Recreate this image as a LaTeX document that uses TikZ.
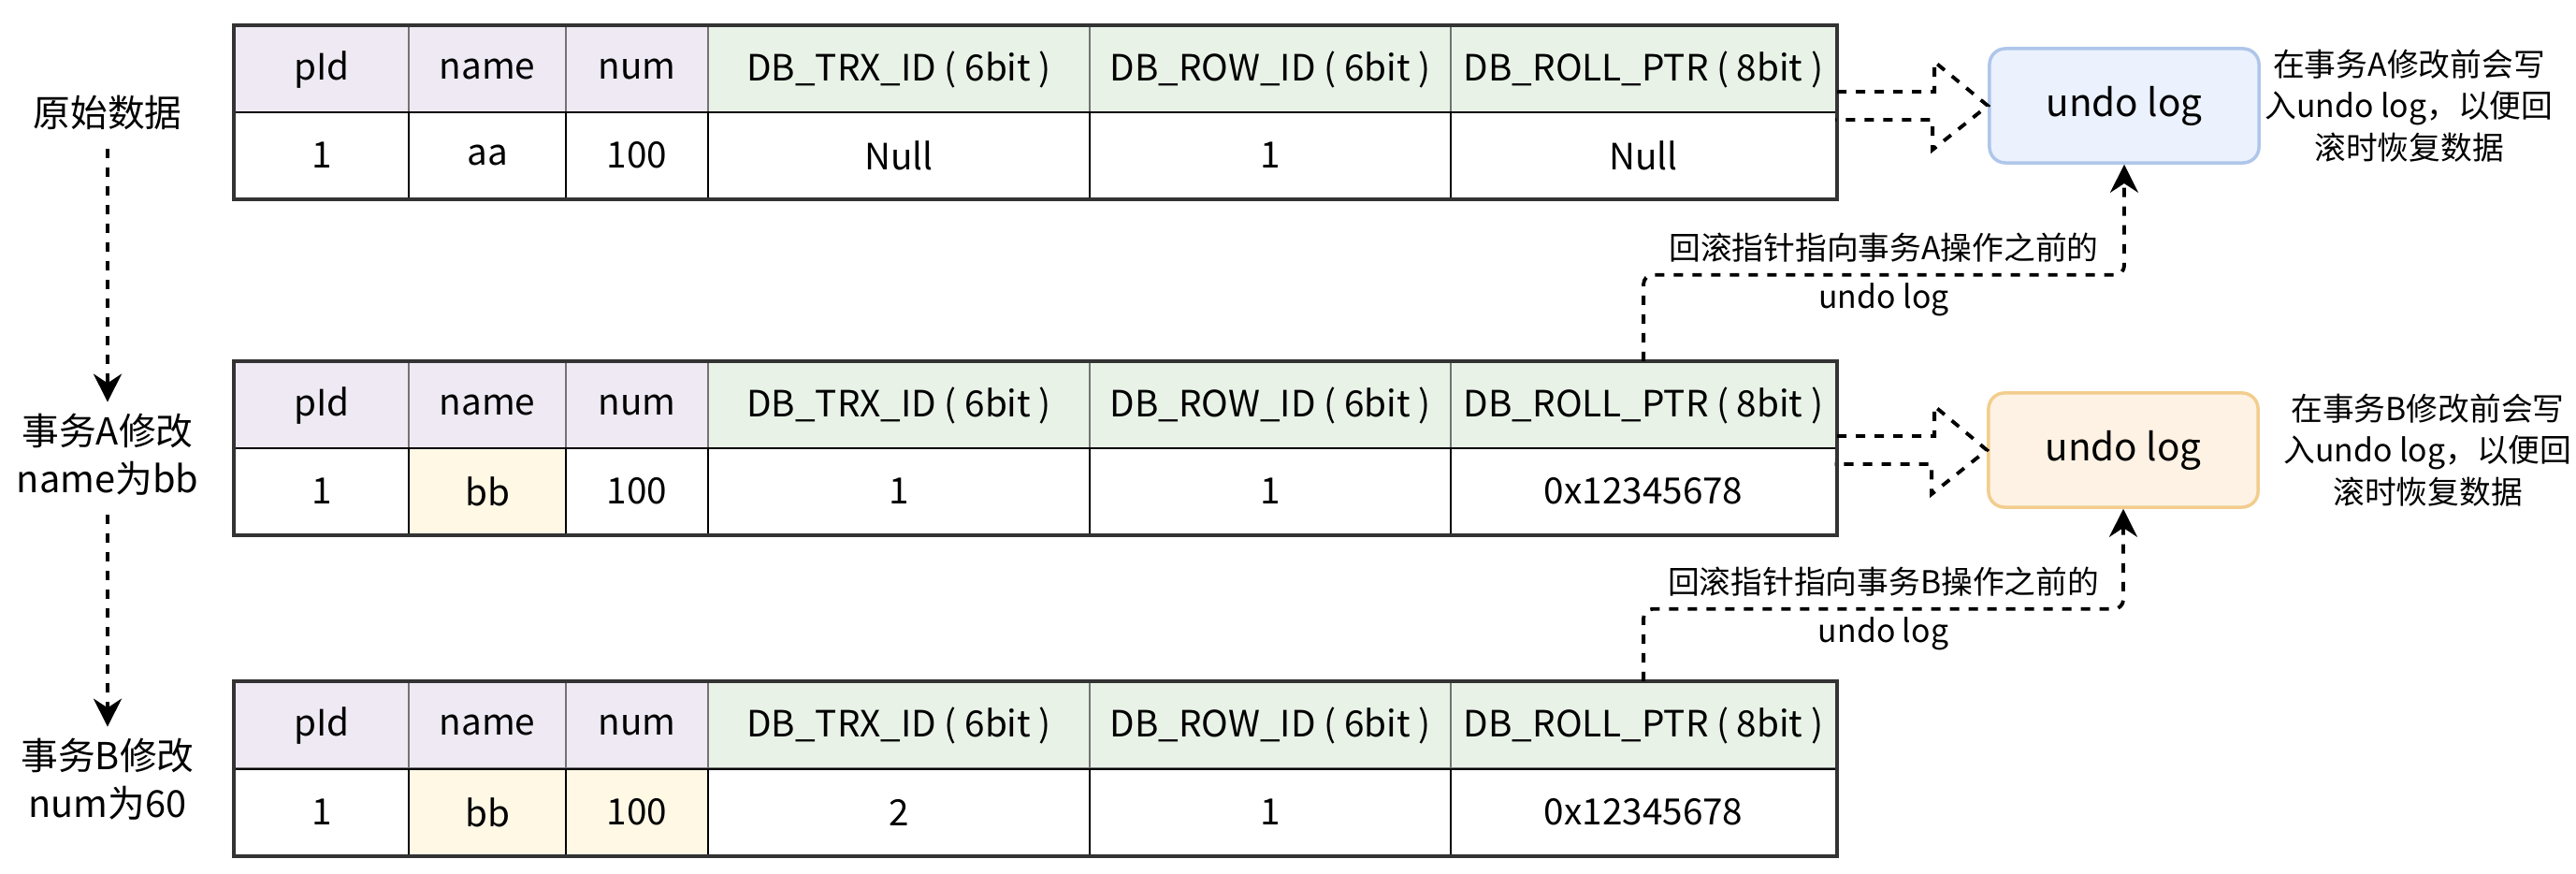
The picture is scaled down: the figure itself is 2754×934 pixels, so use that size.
\documentclass[tikz,border=0pt]{standalone}
\usepackage{fontspec}
\setmainfont{Noto Sans CJK SC}
\usetikzlibrary{positioning, calc, arrows.meta}

\definecolor{hdrp}{HTML}{EEE9F3}
\definecolor{hdrg}{HTML}{E8F2E7}
\definecolor{yel}{HTML}{FFF8E5}
\definecolor{bluefill}{HTML}{EBF1FD}
\definecolor{blueline}{HTML}{AFC6EA}
\definecolor{orgfill}{HTML}{FEF2E4}
\definecolor{orgline}{HTML}{F2CD8E}

\begin{document}
\begin{tikzpicture}[x=0.01cm, y=-0.01cm,
    hcell/.style={draw=black!55, line width=0.6pt, anchor=north west, inner sep=0pt,
        minimum height=0.92cm, font=\fontsize{11pt}{13pt}\selectfont},
    rcell/.style={hcell, draw=black, fill=white},
    frame/.style={draw=black!80, line width=1.2pt},
    undobox/.style={rounded corners=0.17cm, line width=1pt, minimum width=2.88cm,
        minimum height=1.22cm, font=\fontsize{11.5pt}{13pt}\selectfont},
    note/.style={inner sep=0pt, align=center, font=\fontsize{9.6pt}{12.6pt}\selectfont},
    lbl/.style={inner sep=0pt, align=center, font=\fontsize{11.3pt}{14.5pt}\selectfont},
    elabel/.style={inner sep=0pt, align=center, font=\fontsize{9.6pt}{14.8pt}\selectfont},
    dline/.style={line width=1.1pt, dash pattern=on 0.1cm off 0.1cm},
    tip/.style={-{Stealth[length=0.3cm, width=0.3cm]}},
    ptr/.style={dline, tip, rounded corners=0.1cm},
    hollow/.style={dline, line join=miter}]

    \useasboundingbox (0,0) rectangle (2754,934);

    % header rows
    \foreach \tb/\ty in {t1/27, t2/386, t3/728} {
        \foreach \col/\x/\w/\txt/\clr in {1/250/186/pId/hdrp, 2/436/168/name/hdrp,
                3/604/152/num/hdrp, 4/756/408/DB\_TRX\_ID ( 6bit )/hdrg,
                5/1164/386/DB\_ROW\_ID ( 6bit )/hdrg, 6/1550/412/DB\_ROLL\_PTR ( 8bit )/hdrg}
            \node[hcell, fill=\clr, minimum width=\w*0.01cm] (\tb h\col) at (\x,\ty) {\txt};
    }

    % data rows
    \foreach \tb/\ty/\va/\vb/\vc/\vd/\ve/\vf/\fb/\fc in {t1/119/1/aa/100/Null/1/Null/white/white,
            t2/478/1/bb/100/1/1/0x12345678/yel/white, t3/821/1/bb/100/2/1/0x12345678/yel/yel} {
        \node[rcell, minimum width=1.86cm] (\tb r1) at (250,\ty) {\va};
        \node[rcell, fill=\fb, minimum width=1.68cm] (\tb r2) at (436,\ty) {\vb};
        \node[rcell, fill=\fc, minimum width=1.52cm] (\tb r3) at (604,\ty) {\vc};
        \node[rcell, minimum width=4.08cm] (\tb r4) at (756,\ty) {\vd};
        \node[rcell, minimum width=3.86cm] (\tb r5) at (1164,\ty) {\ve};
        \node[rcell, minimum width=4.12cm] (\tb r6) at (1550,\ty) {\vf};
    }

    \foreach \tb in {t1,t2,t3}
        \draw[frame] (\tb h1.north west) rectangle (\tb r6.south east);

    % steps on the left
    \node[lbl] (s0) at (115,120) {原始数据};
    \node[lbl] (sA) at (115,486) {事务A修改\\name为bb};
    \node[lbl] (sB) at (115,833) {事务B修改\\num为60};
    \draw[dline, tip, shorten <=0.2cm, shorten >=0.12cm] (s0) -- (sA);
    \draw[dline, tip, shorten <=0.2cm, shorten >=0.12cm] (sA) -- (sB);

    % undo logs
    \node[undobox, fill=bluefill, draw=blueline] (u1) at (2271,113) {undo log};
    \node[undobox, fill=orgfill, draw=orgline] (u2) at (2270,481) {undo log};
    \node[note, right=0.04cm of u1] (n1) {在事务A修改前会写\\入undo log，以便回\\滚时恢复数据};
    \node[note, right=0.25cm of u2] (n2) {在事务B修改前会写\\入undo log，以便回\\滚时恢复数据};

    % hollow arrows into the undo logs
    \foreach \tb/\ub in {t1/u1, t2/u2}
        \draw[hollow] (\tb h6.east |- \ub.west) ++(0,-15) -- ++(104,0) -- ++(0,-32)
            -- (\ub.west) -- ++(-59,47) -- ++(0,-32) -- ++(-104,0);

    % roll pointers
    \draw[ptr] (t2h6.north) |- ($(u1.south)+(0,118)$)
        node[pos=0.75, elabel] {回滚指针指向事务A操作之前的\\undo log} -- (u1.south);
    \draw[ptr] (t3h6.north) |- ($(u2.south)+(0,107)$)
        node[pos=0.75, elabel] {回滚指针指向事务B操作之前的\\undo log} -- (u2.south);
\end{tikzpicture}
\end{document}
